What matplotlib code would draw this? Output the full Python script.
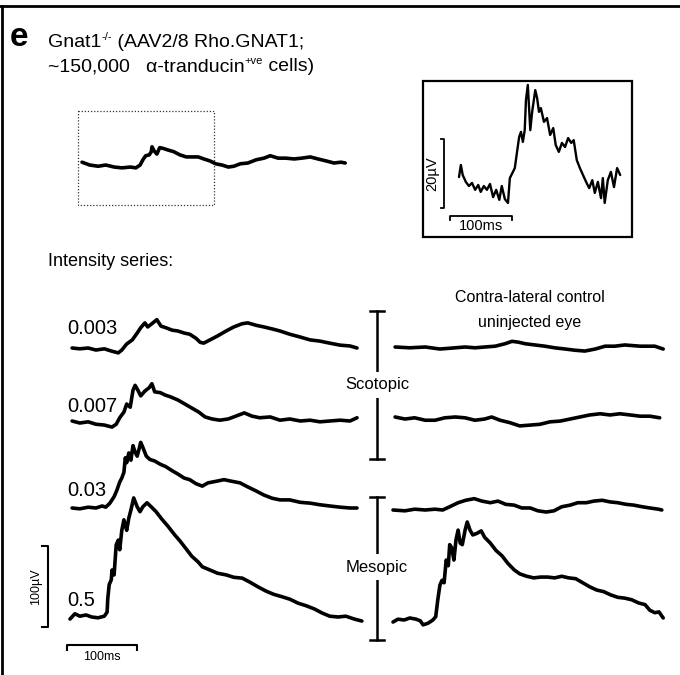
import numpy as np
import matplotlib
matplotlib.use("Agg")
import matplotlib.pyplot as plt
from matplotlib.patches import Rectangle

plt.rcParams['font.family'] = ['Liberation Sans', 'DejaVu Sans']

# ---- data: time (ms) and amplitude (uV) ----
top_t = [0, 11, 23, 34, 46, 57, 69, 77, 83, 87, 91, 96, 99, 100, 103, 107, 111, 116, 123, 131,
         140, 149, 157, 166, 174, 183, 191, 200, 209, 217, 226, 237, 249, 260, 269, 280, 291,
         303, 314, 326, 337, 349, 360, 370, 376]
top_v = [1, -2.5, -4, -2.5, -5, -6, -5, -6, -2.5, 4, 9, 10, 14, 20, 15, 11, 19, 18, 16, 14,
         10, 7.5, 7.5, 7.5, 5, 2.5, -1, -2.5, -5, -4, -1, 0, 4, 6, 9, 6, 6,
         5, 6, 7.5, 5, 2.5, 0, 1, 0]

zoom_t = [0, 3, 6, 11, 16, 21, 26, 31, 35, 40, 45, 50, 55, 60, 65, 69, 74, 79, 82, 87, 90, 94,
          97, 100, 103, 106, 108, 111, 115, 118, 123, 126, 129, 132, 137, 142, 147, 152, 156,
          161, 166, 171, 176, 181, 185, 190, 195, 200, 205, 210, 215, 219, 224, 229, 232, 235,
          240, 245, 250, 255, 260]
zoom_v = [2.3, 5.8, 2.9, 0.9, -0.3, 0.6, -1.4, 0, -2.0, -0.3, -1.4, 0.3, -3.5, -1.4, -4.3, -0.3,
          -4.1, -5.2, 2.0, 3.8, 4.9, 10.1, 13.9, 15.4, 12.5, 15.9, 24.6, 29.0, 15.9, 21.2, 27.5,
          25.2, 21.2, 22.3, 18.3, 19.4, 14.5, 16.5, 11.6, 9.6, 12.2, 11.0, 13.6, 12.2, 13.0, 7.2,
          4.9, 2.9, 0.9, -0.9, 1.4, -2.3, 0.9, -3.8, 2.0, -5.2, 1.4, 3.8, -0.6, 4.9, 2.9]

intensities = ['0.003', '0.007', '0.03', '0.5']

inj_t = {
    '0.003': [3, 14, 26, 37, 49, 60, 69, 74, 81, 89, 96, 101, 107, 111, 117, 124, 130, 137, 146,
              154, 163, 171, 180, 186, 191, 200, 211, 223, 234, 246, 254, 266, 277, 289, 300,
              314, 329, 343, 357, 371, 386, 400, 410],
    '0.007': [3, 14, 26, 37, 49, 60, 66, 71, 77, 81, 86, 90, 93, 97, 101, 107, 113, 117, 121, 129,
              136, 143, 154, 164, 174, 184, 193, 203, 214, 226, 237, 249, 260, 271, 286, 300,
              314, 329, 343, 357, 371, 386, 400, 410],
    '0.03': [3, 14, 26, 37, 46, 51, 57, 63, 67, 71, 74, 77, 79, 81, 84, 87, 90, 93, 96, 99, 101,
             104, 109, 114, 121, 129, 137, 146, 154, 163, 171, 180, 189, 197, 209, 220, 231, 243,
             254, 266, 277, 289, 300, 314, 329, 343, 357, 371, 386, 400, 410],
    '0.5': [0, 7, 14, 23, 31, 40, 49, 53, 54, 56, 59, 60, 63, 66, 69, 71, 74, 77, 80, 81, 84, 87,
            91, 96, 100, 104, 110, 116, 123, 131, 140, 149, 157, 166, 174, 183, 189, 200, 211,
            223, 234, 246, 257, 269, 280, 291, 303, 314, 326, 337, 349, 360, 371, 383, 394, 406,
            417],
}
inj_v = {
    '0.003': [0, -1, 0, -2.5, -1, -4, -6, -2.5, 5, 10, 18.5, 25, 31, 26, 30, 35, 27, 25, 22, 21,
              18.5, 17, 12, 7, 6, 10, 15, 21, 26, 30, 31, 28, 26, 23.5, 21, 17, 13.5, 10, 8.5, 6,
              3.5, 2.5, 0],
    '0.007': [0, -2.5, -1, -4, -5, -7.5, -4, 4, 11, 21, 17, 38, 44, 38, 31, 37, 41, 46, 36, 35,
              32, 30, 26, 21, 16, 11, 5, 2.5, 1, 2.5, 6, 10, 6, 4, 5, 1, 2.5, 0, 1, -1, 0, 1, 0, 4],
    '0.03': [0, -1, 1, 0, 2.5, 1, 6, 14, 22, 32, 37, 44, 62, 56, 68, 59, 77, 69, 64, 74, 81, 75,
             64, 60, 58, 54, 51, 46, 42, 37, 35, 30, 27, 31, 33, 35, 33, 31, 26, 21, 16, 12, 10,
             10, 7, 6, 4, 2.5, 1, 0, 0],
    '0.5': [-2.5, 4, 1, 2.5, 0, -1, 1, 6, 23, 40, 46, 58, 52, 89, 95, 83, 107, 120, 110, 107, 122,
            132, 147, 136, 130, 136, 141, 136, 130, 121, 112, 102, 94, 84, 75, 68, 62, 58, 54,
            52, 49, 48, 43, 37, 32, 28, 25, 22, 17, 14, 10, 5, 1, 0, 1, -2.5, -5],
}

ctl_t = {
    '0.003': [3, 24, 46, 67, 89, 103, 117, 131, 146, 160, 170, 179, 189, 203, 217, 231, 246,
              260, 274, 289, 303, 317, 331, 353, 374, 386],
    '0.007': [3, 17, 31, 46, 60, 74, 89, 103, 117, 131, 141, 153, 167, 181, 196, 210, 224, 239,
              253, 267, 281, 296, 310, 324, 339, 353, 367, 381],
    '0.03': [0, 17, 31, 46, 60, 71, 81, 93, 104, 116, 127, 139, 150, 161, 173, 184, 196, 207, 219,
             230, 241, 253, 264, 276, 287, 299, 310, 321, 333, 344, 356, 367, 379, 384],
    '0.5': [0, 7, 16, 24, 33, 39, 43, 50, 57, 61, 64, 67, 70, 73, 76, 79, 81, 84, 87, 90, 93, 96,
            99, 103, 106, 110, 114, 120, 126, 131, 139, 147, 156, 164, 173, 181, 191, 201, 211,
            221, 231, 241, 251, 261, 271, 281, 291, 301, 311, 321, 331, 341, 351, 360, 367, 374,
            380, 386],
}
ctl_v = {
    '0.003': [0, -1, 0, -2.5, -1, 0, -1, 0, 1, 4, 7, 6, 4, 2.5, 1, -1, -2.5, -4, -5, -2.5, 1, 1,
              2.5, 1, 1, -2.5],
    '0.007': [0, -2.5, -1, -4, -4, -1, 0, -1, -4, -2.5, 0, -4, -7, -11, -10, -9, -6, -5, -2.5, 0,
              2.5, 4, 2.5, 4, 2.5, 1, 1, -1],
    '0.03': [0, -1, 1, 0, 1, 0, 4, 9, 12, 14, 11, 9, 11, 7, 6, 2.5, 2.5, -1, -2.5, -1, 4, 6, 9,
             9, 11, 12, 10, 9, 7, 6, 4, 2.5, 1, 0],
    '0.5': [-2.5, 1, 0, 2.5, 1, -1, -6, -4, 0, 4, 25, 43, 49, 46, 74, 67, 93, 89, 74, 99, 111, 95,
            93, 111, 121, 111, 105, 107, 110, 102, 95, 86, 79, 70, 62, 57, 54, 52, 53, 53, 52, 54,
            52, 51, 46, 41, 37, 35, 31, 28, 27, 25, 21, 19, 12, 9, 10, 2.5],
}

bar_ms = 100
bar_uv = 100
zoom_bar_ms = 100
zoom_bar_uv = 20

# ---- layout (pixels) ----
SX, SY = 0.70, 0.81          # px per ms, px per uV for the main traces
ZSX, ZSY = 0.62, 3.45        # inset scale
inj_origin = {'0.003': (70, 348), '0.007': (70, 421), '0.03': (70, 508), '0.5': (70, 617)}
ctl_origin = {'0.003': (393, 347), '0.007': (393, 417), '0.03': (393, 510), '0.5': (393, 620)}
label_y = {'0.003': 329, '0.007': 407, '0.03': 490, '0.5': 600}

fig = plt.figure(figsize=(6.8, 6.75), dpi=100)
ax = fig.add_axes([0, 0, 1, 1])
ax.set_xlim(0, 680)
ax.set_ylim(675, 0)
ax.axis('off')
renderer = fig.canvas.get_renderer()


def trace(t, v, origin, sx=SX, sy=SY, lw=2.6):
    x = origin[0] + np.asarray(t) * sx
    y = origin[1] - np.asarray(v) * sy
    ax.plot(x, y, color='black', lw=lw, solid_joinstyle='round', solid_capstyle='round')


def runs(x, y, parts):
    # write pieces one after another, superscripts raised and smaller
    for s, sup in parts:
        t = ax.text(x, y - (7 if sup else 0), s, fontsize=8 if sup else 14, va='baseline')
        bb = t.get_window_extent(renderer)
        x += bb.width


# frame lines (top and left)
ax.plot([0, 680], [6, 6], color='black', lw=2)
ax.plot([2, 2], [6, 675], color='black', lw=2)

# title
ax.text(10, 46, 'e', fontsize=24, fontweight='bold', va='baseline')
runs(48, 47, [('Gnat1', False), ('-/-', True), (' (AAV2/8 Rho.GNAT1;', False)])
runs(48, 71, [('~150,000   \u03b1-tranducin', False), ('+ve', True), (' cells)', False)])

# top trace with dotted box
trace(top_t, top_v, (82, 163))
ax.add_patch(Rectangle((78, 111), 136, 94, fill=False, ls=(0, (1, 1.5)), lw=0.9, ec='#333333'))

# inset
ax.add_patch(Rectangle((423, 81), 209, 156, fill=False, lw=1.6, ec='black'))
trace(zoom_t, zoom_v, (459, 185), ZSX, ZSY, lw=1.7)
zx, zy, zlen = 444, 208, zoom_bar_uv * ZSY
ax.plot([zx - 3, zx, zx, zx - 3], [zy, zy, zy - zlen, zy - zlen], color='black', lw=1.3)
ax.text(432, zy - zlen / 2, '20\u00b5V', rotation=90, fontsize=10.5, ha='center', va='center')
hx, hy, hlen = 450, 216, zoom_bar_ms * ZSX
ax.plot([hx, hx, hx + hlen, hx + hlen], [hy + 4, hy, hy, hy + 4], color='black', lw=1.3)
ax.text(hx + hlen / 2, hy + 10, '100ms', fontsize=10.5, ha='center', va='center')

# intensity series
ax.text(48, 262, 'Intensity series:', fontsize=13, va='center')
for k in intensities:
    trace(inj_t[k], inj_v[k], inj_origin[k])
    trace(ctl_t[k], ctl_v[k], ctl_origin[k])
    ax.text(67, label_y[k], k, fontsize=14.5, va='center')

ax.text(530, 298, 'Contra-lateral control', fontsize=11.5, ha='center', va='center')
ax.text(530, 323, 'uninjected eye', fontsize=11.5, ha='center', va='center')

# brackets
for name, y0, y1 in [('Scotopic', 311, 459), ('Mesopic', 497, 640)]:
    ax.plot([377, 377], [y0, y1], color='black', lw=1.8)
    ax.plot([370, 384], [y0, y0], color='black', lw=1.8)
    ax.plot([370, 384], [y1, y1], color='black', lw=1.8)
    yc = y0 + (y1 - y0) * (0.5 if name == 'Scotopic' else 0.49)
    ax.text(377, yc, name, fontsize=12, ha='center', va='center',
            bbox=dict(fc='white', ec='none', pad=4))

# main scale bars
vx, vy, vlen = 48, 627, bar_uv * SY
ax.plot([vx - 6, vx, vx, vx - 6], [vy, vy, vy - vlen, vy - vlen], color='black', lw=1.5)
ax.text(36, vy - vlen / 2, '100\u00b5V', rotation=90, fontsize=9, ha='center', va='center')
bx, by, blen = 67, 645, bar_ms * SX
ax.plot([bx, bx, bx + blen, bx + blen], [by + 5, by, by, by + 5], color='black', lw=1.5)
ax.text(bx + blen / 2, 657, '100ms', fontsize=9, ha='center', va='center')

fig.savefig('out.png', dpi=100)
